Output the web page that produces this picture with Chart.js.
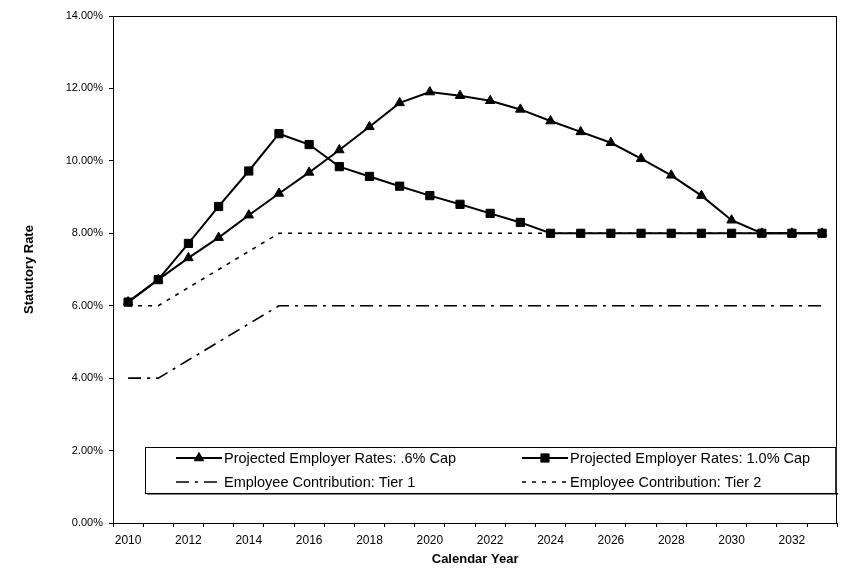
<!DOCTYPE html>
<html>
<head>
<meta charset="utf-8">
<script src="https://cdn.jsdelivr.net/npm/chart.js@4"></script>
<style>
  html, body { margin: 0; padding: 0; background: #fff; }
  canvas { display: block; }
</style>
</head>
<body>
<canvas id="rateChart" width="844" height="569"></canvas>
<script>
const years = [2010, 2011, 2012, 2013, 2014, 2015, 2016, 2017, 2018, 2019, 2020, 2021,
  2022, 2023, 2024, 2025, 2026, 2027, 2028, 2029, 2030, 2031, 2032, 2033];

// Projected employer rates, .6% cap (triangles)
const capSix = [6.1, 6.72, 7.32, 7.88, 8.5, 9.1, 9.68, 10.3, 10.94, 11.6, 11.9, 11.8,
  11.66, 11.42, 11.1, 10.8, 10.5, 10.06, 9.6, 9.04, 8.36, 8.0, 8.0, 8.0];

// Projected employer rates, 1.0% cap (squares)
const capOne = [6.1, 6.72, 7.72, 8.74, 9.72, 10.75, 10.45, 9.84, 9.57, 9.3, 9.04, 8.8,
  8.55, 8.3, 8.0, 8.0, 8.0, 8.0, 8.0, 8.0, 8.0, 8.0, 8.0, 8.0];

const tierOne = [4, 4, 4.5, 5, 5.5, 6, 6, 6, 6, 6, 6, 6, 6, 6, 6, 6, 6, 6, 6, 6, 6, 6, 6, 6];
const tierTwo = [6, 6, 6.5, 7, 7.5, 8, 8, 8, 8, 8, 8, 8, 8, 8, 8, 8, 8, 8, 8, 8, 8, 8, 8, 8];

const yTicks = [0, 2, 4, 6, 8, 10, 12, 14];

const fontFamily = "'Liberation Sans', Arial, sans-serif";
Chart.defaults.font.family = fontFamily;
Chart.defaults.color = '#000';

// frame round the plot area
const plotFrame = {
  id: 'plotFrame',
  beforeDatasetsDraw(chart) {
    const { ctx, chartArea: a } = chart;
    ctx.save();
    ctx.strokeStyle = '#000';
    ctx.lineWidth = 1;
    ctx.strokeRect(Math.round(a.left) + 0.5, Math.round(a.top) + 0.5,
      Math.round(a.right - a.left) - 1, Math.round(a.bottom - a.top));
    ctx.restore();
  }
};

// legend box sitting inside the plot, two columns
const legendBox = {
  id: 'legendBox',
  afterDraw(chart) {
    const { ctx, chartArea: a } = chart;
    const x0 = a.left + 32, x1 = a.right - 1, y0 = 447, y1 = 493;
    ctx.save();
    ctx.fillStyle = '#000';
    ctx.fillRect(x0 + 2, y1, x1 - x0, 1.5);
    ctx.fillStyle = '#fff';
    ctx.fillRect(x0, y0, x1 - x0, y1 - y0);
    ctx.strokeStyle = '#000';
    ctx.lineWidth = 1;
    ctx.strokeRect(x0 + 0.5, y0 + 0.5, x1 - x0 - 1, y1 - y0);

    const slots = [[x0 + 31, 458], [x0 + 377, 458], [x0 + 31, 482], [x0 + 377, 482]];
    ctx.font = '14.5px ' + fontFamily;
    ctx.textBaseline = 'middle';
    chart.data.datasets.forEach((ds, i) => {
      const [sx, sy] = slots[i];
      ctx.strokeStyle = '#000';
      ctx.fillStyle = '#000';
      ctx.lineWidth = ds.borderWidth;
      ctx.setLineDash(ds.borderDash || []);
      ctx.beginPath();
      ctx.moveTo(sx, sy);
      ctx.lineTo(sx + 46, sy);
      ctx.stroke();
      ctx.setLineDash([]);
      if (ds.pointRadius) {
        ctx.lineWidth = 1;
        Chart.helpers.drawPoint(ctx, { pointStyle: ds.pointStyle, radius: ds.pointRadius, borderWidth: 1 }, sx + 23, sy);
      }
      ctx.fillStyle = '#000';
      ctx.fillText(ds.label, sx + 48, sy + 1);
    });
    ctx.restore();
  }
};

new Chart(document.getElementById('rateChart'), {
  type: 'line',
  data: {
    labels: years,
    datasets: [
      {
        label: 'Projected Employer Rates: .6% Cap',
        data: capSix,
        borderColor: '#000',
        backgroundColor: '#000',
        borderWidth: 2,
        pointStyle: 'triangle',
        pointRadius: 5.5,
        pointBorderWidth: 1,
        order: 2,
      },
      {
        label: 'Projected Employer Rates: 1.0% Cap',
        data: capOne,
        borderColor: '#000',
        backgroundColor: '#000',
        borderWidth: 2,
        pointStyle: 'rect',
        pointRadius: 5.8,
        pointBorderWidth: 1,
        order: 1,
      },
      {
        label: 'Employee Contribution: Tier 1',
        data: tierOne,
        borderColor: '#000',
        borderWidth: 1.6,
        borderDash: [13, 6, 3, 6],
        pointRadius: 0,
        order: 3,
      },
      {
        label: 'Employee Contribution: Tier 2',
        data: tierTwo,
        borderColor: '#000',
        borderWidth: 1.6,
        borderDash: [4, 6],
        pointRadius: 0,
        order: 4,
      },
    ],
  },
  options: {
    responsive: false,
    animation: false,
    layout: { padding: { top: 16, right: 6, left: 0, bottom: 0 } },
    elements: { line: { tension: 0 } },
    plugins: { legend: { display: false }, tooltip: { enabled: false } },
    scales: {
      x: {
        offset: true,
        grid: { offset: true, drawOnChartArea: false, tickLength: 4, color: '#000' },
        border: { color: '#000', width: 1 },
        ticks: {
          autoSkip: false,
          maxRotation: 0,
          padding: 6,
          font: { size: 12 },
          callback: (v, i) => (i % 2 === 0 ? String(years[i]) : ''),
        },
        title: {
          display: true,
          text: 'Calendar Year',
          font: { size: 13, weight: 'bold' },
          padding: { top: 0, bottom: 2 },
        },
        afterFit: (s) => { s.height = 46; },
      },
      y: {
        min: yTicks[0],
        max: yTicks[yTicks.length - 1],
        afterBuildTicks: (s) => { s.ticks = yTicks.map((v) => ({ value: v })); },
        grid: { drawOnChartArea: false, tickLength: 4, color: '#000' },
        border: { color: '#000', width: 1 },
        ticks: {
          padding: 6,
          font: { size: 11 },
          callback: (v) => v.toFixed(2) + '%',
        },
        title: {
          display: true,
          text: 'Statutory Rate',
          font: { size: 13, weight: 'bold' },
          padding: { top: 22, bottom: 0 },
        },
        afterFit: (s) => { s.width = 113; },
      },
    },
  },
  plugins: [plotFrame, legendBox],
});
</script>
</body>
</html>
